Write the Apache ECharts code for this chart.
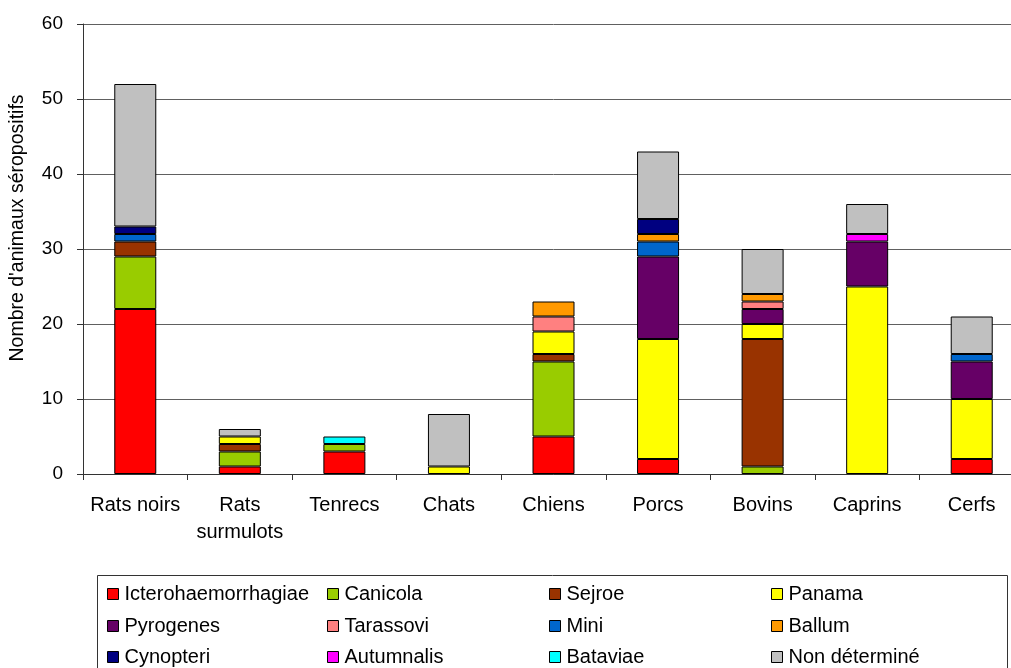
<!DOCTYPE html>
<html><head><meta charset="utf-8">
<script src="https://cdn.jsdelivr.net/npm/echarts@6/dist/echarts.min.js"></script>
<style>html,body{margin:0;padding:0;background:#fff;overflow:hidden;width:1011px;height:668px}#c{width:1040px;height:668px}</style>
</head><body><div id="c"></div>
<script>
const categories = ['Rats noirs','Rats\nsurmulots','Tenrecs','Chats','Chiens','Porcs','Bovins','Caprins','Cerfs'];
const seriesNames = ['Icterohaemorrhagiae','Canicola','Sejroe','Panama','Pyrogenes','Tarassovi','Mini','Ballum','Cynopteri','Autumnalis','Bataviae','Non déterminé'];
const colors = ['#FF0000','#99CC00','#993300','#FFFF00','#660066','#FF8080','#0066CC','#FF9900','#000080','#FF00FF','#00FFFF','#C0C0C0'];
const icterohaemorrhagiae = [22,1,3,0,5,2,0,0,2];
const canicola            = [7,2,1,0,10,0,1,0,0];
const sejroe              = [2,1,0,0,1,0,17,0,0];
const panama              = [0,1,0,1,3,16,2,25,8];
const pyrogenes           = [0,0,0,0,0,11,2,6,5];
const tarassovi           = [0,0,0,0,2,0,1,0,0];
const mini                = [1,0,0,0,0,2,0,0,1];
const ballum              = [0,0,0,0,2,1,1,0,0];
const cynopteri           = [1,0,0,0,0,2,0,0,0];
const autumnalis          = [0,0,0,0,0,0,0,1,0];
const bataviae            = [0,0,1,0,0,0,0,0,0];
const nonDetermine        = [19,1,0,7,0,9,6,4,5];
const yTicks = [0,10,20,30,40,50,60];

const allData = [icterohaemorrhagiae,canicola,sejroe,panama,pyrogenes,tarassovi,mini,ballum,cynopteri,autumnalis,bataviae,nonDetermine];
const FONT = 'Liberation Sans, Arial, sans-serif';

const series = seriesNames.map((n,i)=>({
  name:n, type:'bar', stack:'t', barWidth:42,
  data: allData[i].map(v=> v===0 ? '-' : v),
  itemStyle:{color:colors[i], borderColor:'#000', borderWidth:1},
  emphasis:{disabled:true}
}));

const colX = [107, 327, 549, 771];
const rowY = [584, 616, 647];
const legends = seriesNames.map((n,i)=>({
  data:[n], left:colX[i%4], top:rowY[Math.floor(i/4)], orient:'horizontal',
  icon:'rect', itemWidth:11, itemHeight:11, itemGap:4, padding:0,
  itemStyle:{borderColor:'#000', borderWidth:1},
  textStyle:{fontFamily:FONT, fontSize:20, color:'#000', padding:[0,0,0,1]},
  selectedMode:false
}));

const chart = echarts.init(document.getElementById('c'), null, {renderer:'canvas'});
chart.setOption({
  animation:false,
  color:colors,
  grid:{left:83, right:16, top:24, bottom:668-474, containLabel:false},
  legend:legends,
  xAxis:{type:'category', data:categories, boundaryGap:true,
    axisLine:{lineStyle:{color:'#333', width:1}},
    axisTick:{show:true, interval:0, length:6, lineStyle:{color:'#333'}},
    axisLabel:{interval:0, hideOverlap:false, fontFamily:FONT, fontSize:20, color:'#000', margin:18, lineHeight:27}
  },
  yAxis:{type:'value', min:yTicks[0], max:yTicks[yTicks.length-1], interval:10,
    axisLine:{show:true, lineStyle:{color:'#333', width:1}},
    axisTick:{show:true, inside:false, length:6, lineStyle:{color:'#333'}},
    axisLabel:{fontFamily:FONT, fontSize:19, color:'#000', margin:20},
    splitLine:{lineStyle:{color:'#606060', width:1}}
  },
  graphic:[
    {type:'rect', shape:{x:97.5, y:575.5, width:910, height:100}, style:{fill:'none', stroke:'#333', lineWidth:1}, silent:true},
    {type:'text', x:18, y:228, rotation:Math.PI/2, style:{text:"Nombre d'animaux séropositifs", font:'19.5px '+FONT, fill:'#000', align:'center', verticalAlign:'middle'}}
  ],
  series:series
});
</script></body></html>
